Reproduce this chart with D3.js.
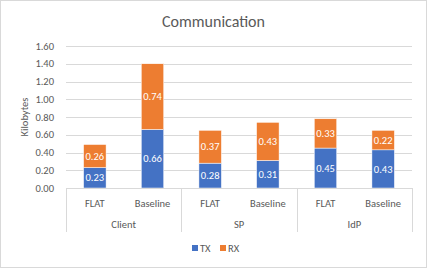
<!DOCTYPE html>
<html>
<head>
<meta charset="utf-8">
<script src="https://cdn.jsdelivr.net/npm/d3@7"></script>
<style>
  body { margin: 0; background: #fff; }
  text { font-family: Carlito, Calibri, Lato, sans-serif; }
</style>
</head>
<body>
<div id="chart"></div>
<script>
const WIDTH = 427, HEIGHT = 268;
const MARGIN = { left: 66, right: 15, top: 46, bottom: 80 };

// data
const groups = ["Client", "SP", "IdP"];
const variants = ["FLAT", "Baseline"];
const series = ["TX", "RX"];
const txValues = [0.23, 0.66, 0.28, 0.31, 0.45, 0.43];
const rxValues = [0.26, 0.74, 0.37, 0.43, 0.33, 0.22];
const yTicks = [0, 0.2, 0.4, 0.6, 0.8, 1.0, 1.2, 1.4, 1.6];

const COLORS = { TX: "#4472C4", RX: "#ED7D31" };
const TEXT_COLOR = "#595959";
const GRID_COLOR = "#d9d9d9";

const rows = [];
groups.forEach((g, gi) => {
    variants.forEach((v, vi) => {
        const i = gi * variants.length + vi;
        rows.push({ group: g, variant: v, TX: txValues[i], RX: rxValues[i] });
    });
});

const svg = d3.select("#chart")
    .append("svg")
    .attr("width", WIDTH)
    .attr("height", HEIGHT);

// outer border
svg.append("rect")
    .attr("x", 0.5).attr("y", 0.5)
    .attr("width", WIDTH - 1).attr("height", HEIGHT - 1)
    .attr("fill", "#fff")
    .attr("stroke", GRID_COLOR);

const x0 = d3.scaleBand()
    .domain(groups)
    .range([MARGIN.left, WIDTH - MARGIN.right]);

const x1 = d3.scaleBand()
    .domain(variants)
    .range([0, x0.bandwidth()])
    .paddingInner(0.61)
    .paddingOuter(0.305);

const y = d3.scaleLinear()
    .domain([0, 1.6])
    .range([HEIGHT - MARGIN.bottom, MARGIN.top]);

const y0 = y(0);

// --- Gridlines ---
svg.append("g")
    .selectAll("line")
    .data(yTicks)
    .join("line")
    .attr("x1", MARGIN.left)
    .attr("x2", WIDTH - MARGIN.right)
    .attr("y1", d => Math.round(y(d)) + 0.5)
    .attr("y2", d => Math.round(y(d)) + 0.5)
    .attr("stroke", GRID_COLOR)
    .attr("stroke-width", 1);

// --- Y axis labels ---
svg.append("g")
    .selectAll("text")
    .data(yTicks)
    .join("text")
    .attr("x", MARGIN.left - 12)
    .attr("y", d => y(d))
    .attr("dy", "0.35em")
    .attr("text-anchor", "end")
    .attr("fill", TEXT_COLOR)
    .style("font-size", "10.5px")
    .text(d => d3.format(".2f")(d));

svg.append("text")
    .attr("transform", `translate(28, ${(y(0) + y(1.6)) / 2}) rotate(-90)`)
    .attr("text-anchor", "middle")
    .attr("fill", TEXT_COLOR)
    .style("font-size", "10.5px")
    .text("Kilobytes");

// --- Bars ---
const stacked = d3.stack().keys(series)(rows);

const layer = svg.append("g")
    .selectAll("g")
    .data(stacked)
    .join("g")
    .attr("fill", d => COLORS[d.key]);

layer.selectAll("rect")
    .data(d => d)
    .join("rect")
    .attr("x", d => x0(d.data.group) + x1(d.data.variant))
    .attr("y", d => y(d[1]))
    .attr("width", x1.bandwidth())
    .attr("height", d => y(d[0]) - y(d[1]))
    .attr("stroke", "#fff")
    .attr("stroke-width", 0.5);

layer.selectAll("text")
    .data(d => d.map(p => ({ p, key: d.key })))
    .join("text")
    .attr("x", d => x0(d.p.data.group) + x1(d.p.data.variant) + x1.bandwidth() / 2)
    .attr("y", d => (y(d.p[0]) + y(d.p[1])) / 2)
    .attr("dy", "0.35em")
    .attr("text-anchor", "middle")
    .attr("fill", "#fff")
    .style("font-size", "10.5px")
    .text(d => d3.format(".2f")(d.p.data[d.key]));

// --- Category axis (two levels) ---
const axis = svg.append("g").attr("stroke", GRID_COLOR);
axis.append("line")
    .attr("x1", MARGIN.left).attr("x2", WIDTH - MARGIN.right)
    .attr("y1", Math.round(y0) + 0.5).attr("y2", Math.round(y0) + 0.5);

const bounds = groups.map(g => x0(g)).concat([x0.range()[1]]);
axis.selectAll(".sep")
    .data(bounds)
    .join("line")
    .attr("class", "sep")
    .attr("x1", d => Math.round(d) + 0.5)
    .attr("x2", d => Math.round(d) + 0.5)
    .attr("y1", y0)
    .attr("y2", y0 + 44);

svg.append("g")
    .selectAll("text")
    .data(rows)
    .join("text")
    .attr("x", d => x0(d.group) + x1(d.variant) + x1.bandwidth() / 2)
    .attr("y", y0 + 15)
    .attr("dy", "0.35em")
    .attr("text-anchor", "middle")
    .attr("fill", TEXT_COLOR)
    .style("font-size", "10.5px")
    .text(d => d.variant);

svg.append("g")
    .selectAll("text")
    .data(groups)
    .join("text")
    .attr("x", d => x0(d) + x0.bandwidth() / 2)
    .attr("y", y0 + 36)
    .attr("dy", "0.35em")
    .attr("text-anchor", "middle")
    .attr("fill", TEXT_COLOR)
    .style("font-size", "10.5px")
    .text(d => d);

// --- Title ---
svg.append("text")
    .attr("x", WIDTH / 2)
    .attr("y", 21)
    .attr("dy", "0.35em")
    .attr("text-anchor", "middle")
    .attr("fill", TEXT_COLOR)
    .style("font-size", "16px")
    .text("Communication");

// --- Legend ---
const legend = svg.append("g")
    .attr("transform", `translate(192, 248)`);

series.forEach((s, i) => {
    const g = legend.append("g").attr("transform", `translate(${i * 28}, 0)`);
    g.append("rect")
        .attr("x", 0).attr("y", -3)
        .attr("width", 6).attr("height", 6)
        .attr("fill", COLORS[s]);
    g.append("text")
        .attr("x", 8).attr("y", 0)
        .attr("dy", "0.35em")
        .attr("fill", TEXT_COLOR)
        .style("font-size", "10.5px")
        .text(s);
});
</script>
</body>
</html>
